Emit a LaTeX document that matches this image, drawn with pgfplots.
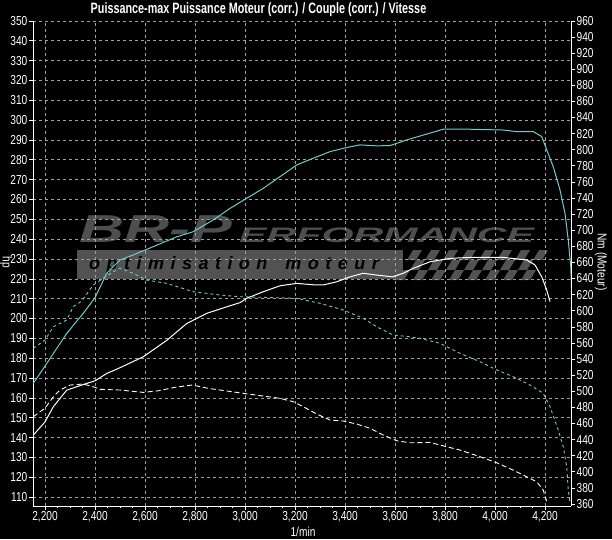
\documentclass[border=0pt]{standalone}
\usepackage{fontspec}
\setmainfont{Liberation Sans}[FakeStretch=0.78]
\newfontfamily\titlefont{Liberation Sans}[FakeStretch=0.72]
\newfontfamily\wmfont{Liberation Sans}
\newfontfamily\wmspaced{Liberation Sans}[LetterSpace=36]
\usepackage{pgfplots}
\pgfplotsset{compat=1.18}
\definecolor{tq}{RGB}{110,205,205}
\definecolor{gridc}{RGB}{160,160,160}
\definecolor{wmgray}{RGB}{78,78,78}
\definecolor{wmband}{RGB}{82,82,82}

\begin{document}
\begin{tikzpicture}[x=1pt,y=1pt]
% background
\fill[black] (-33,-33) rectangle (579,506);

% watermark (behind the curves)
\fill[wmband] (44,227) rectangle (370,256);
\node[anchor=west, inner sep=0] at (56,241) {\wmspaced\bfseries\itshape\fontsize{18}{18}\selectfont\color{black}optimisation\quad moteur};
\node[anchor=south west, inner sep=0, text=wmgray] at (46,263) {\scalebox{1.6}[1]{\wmfont\bfseries\itshape\fontsize{39}{39}\selectfont BR-P}};
\node[anchor=south west, inner sep=0, text=wmgray] at (206,263) {\scalebox{1.96}[1]{\wmfont\bfseries\itshape\fontsize{21}{21}\selectfont ERFORMANCE}};
\begin{scope}[shift={(362,226)}, xslant=0.6]
  \foreach \i in {0,...,14} {
    \foreach \j in {0,...,2} {
      \pgfmathparse{int(mod(\i+\j,2))}
      \ifnum\pgfmathresult=0
        \fill[wmband] (\i*9,\j*10) rectangle ++(9,10);
      \fi
    }
  }
\end{scope}

\begin{axis}[
    at={(0,0)}, anchor=south west,
    scale only axis,
    width=538pt, height=485.5pt,
    xmin=2152, xmax=4304,
    ymin=105.5, ymax=350.2,
    axis x line*=bottom,
    axis y line*=left,
    axis line style={white, line width=1pt, -},
    xtick={2200,2400,...,4200},
    ytick={110,120,...,350},
    minor x tick num=3,
    tick align=outside,
    major tick length=4pt,
    minor tick length=2pt,
    tick style={white, line width=0.6pt},
    grid=major,
    major grid style={gridc, line width=0.6pt, dash pattern=on 3pt off 3pt},
    tick label style={font=\fontsize{13}{13}\selectfont, text=white, inner sep=1.5pt},
    /pgf/number format/assume math mode=true,
    /pgf/number format/1000 sep={,},
    scaled ticks=false,
    clip=false,
]
  % power, tuned
  \addplot[tq, line width=1pt] coordinates {
    (2153,167.3) (2200,176.0) (2287,192.5) (2353,202.6) (2400,210.5)
    (2447,222.8) (2500,229.5) (2552,232.0) (2633,236.2) (2727,241.2)
    (2792,243.7) (2872,249.6) (2940,255.5) (3007,260.6) (3073,265.6)
    (3140,271.5) (3207,277.4) (3273,280.8) (3340,284.1) (3407,286.2)
    (3460,287.5) (3530,287.0) (3580,287.2) (3660,290.5) (3793,295.4)
    (3900,295.4) (4033,295.0) (4087,294.2) (4153,294.2) (4187,291.7)
    (4207,285.0) (4233,276.5) (4260,264.8) (4280,253.0) (4293,239.6)
    (4303,226.0) (4306,216.0)
  };
  % power, stock
  \addplot[white, line width=1pt] coordinates {
    (2153,141.2) (2200,147.9) (2233,155.5) (2287,163.9) (2320,165.3)
    (2367,167.3) (2400,168.6) (2447,172.3) (2493,174.8) (2593,180.7)
    (2687,189.0) (2767,197.5) (2847,202.6) (2927,205.9) (2980,208.0)
    (3007,210.2) (3073,213.5) (3140,216.5) (3207,217.7) (3273,217.0)
    (3313,216.9) (3367,218.5) (3420,221.0) (3473,222.8) (3527,221.9)
    (3590,221.0) (3633,222.8) (3673,225.3) (3740,228.6) (3820,230.3)
    (3900,230.8) (4033,230.8) (4127,229.5) (4160,227.0) (4187,221.0)
    (4207,214.3) (4220,208.5)
  };
\end{axis}

\begin{axis}[
    at={(0,0)}, anchor=south west,
    scale only axis,
    width=538pt, height=485.5pt,
    xmin=2152, xmax=4304,
    ymin=357.5, ymax=960.4,
    axis x line=none,
    axis y line*=right,
    axis line style={white, line width=1pt, -},
    ytick={360,380,...,960},
    tick align=outside,
    major tick length=4pt,
    tick style={white, line width=0.6pt},
    tick label style={font=\fontsize{13}{13}\selectfont, text=white, inner sep=1.5pt},
    /pgf/number format/assume math mode=true,
    /pgf/number format/1000 sep={},
    scaled ticks=false,
    clip=false,
]
  % torque, tuned
  \addplot[tq, line width=0.9pt, dash pattern=on 3pt off 3pt] coordinates {
    (2153,553.3) (2200,563.6) (2233,580.0) (2287,588.5) (2313,605.0)
    (2347,612.0) (2393,632.0) (2473,648.4) (2500,652.7) (2553,646.4)
    (2607,638.0) (2687,634.0) (2793,623.6) (2900,619.5) (2980,617.4)
    (3073,616.6) (3207,615.4) (3300,609.2) (3393,600.9) (3473,590.6)
    (3527,580.1) (3593,569.8) (3660,567.7) (3700,565.7) (3780,559.5)
    (3860,547.1) (3940,536.7) (4007,526.4) (4073,518.0) (4140,507.7)
    (4193,497.4) (4220,480.8) (4253,451.8) (4273,431.1) (4287,406.3)
    (4293,377.3) (4300,360.8)
  };
  % torque, stock
  \addplot[white, line width=0.9pt, dash pattern=on 5pt off 3pt] coordinates {
    (2153,468.4) (2200,479.0) (2233,493.0) (2260,501.5) (2300,507.7)
    (2353,509.0) (2400,504.9) (2420,502.4) (2500,501.5) (2593,498.6)
    (2653,500.6) (2720,504.9) (2787,507.7) (2800,507.0) (2853,503.6)
    (2980,498.0) (3073,494.0) (3140,491.2) (3193,487.0) (3233,480.8)
    (3287,471.7) (3340,464.3) (3393,463.0) (3447,459.3) (3500,454.0)
    (3553,445.6) (3607,438.5) (3660,436.0) (3740,436.5) (3780,433.2)
    (3860,427.0) (3940,418.7) (4007,411.2) (4073,402.0) (4127,393.8)
    (4167,387.6) (4193,377.3) (4207,362.8)
  };
\end{axis}

% titles and axis names
\node[text=white, inner sep=0] at (225.5,496) {\titlefont\bfseries\fontsize{15}{15}\selectfont Puissance-max Puissance Moteur (corr.) / Couple (corr.) / Vitesse};
\node[text=white, inner sep=0] at (270,-26) {\fontsize{13}{13}\selectfont 1/min};
\node[text=white, inner sep=0, rotate=-90] at (-27,244) {\fontsize{13}{13}\selectfont hp};
\node[text=white, inner sep=0, rotate=-90] at (568,244) {\fontsize{13}{13}\selectfont Nm (Moteur)};

\pgfresetboundingbox
\useasboundingbox (-33,-33) rectangle (579,506);
\end{tikzpicture}
\end{document}
